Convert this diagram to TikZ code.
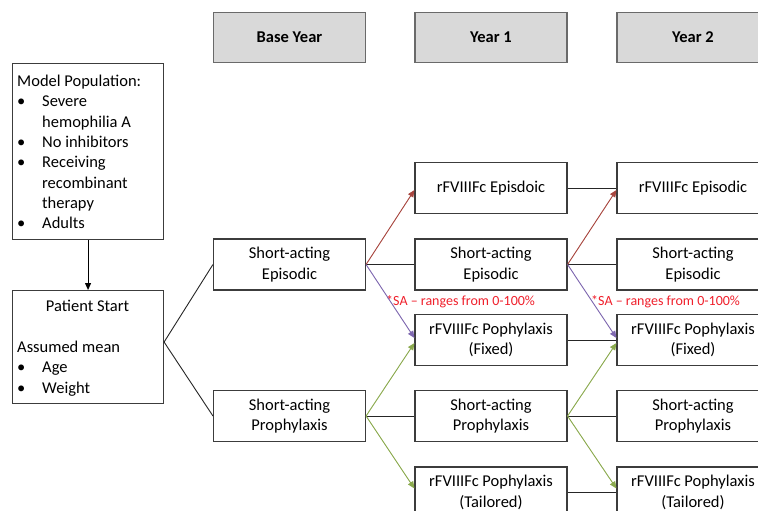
\documentclass[tikz,border=0pt]{standalone}
\usepackage{fontspec}
\setmainfont{Carlito}
\usetikzlibrary{arrows.meta}
\definecolor{hdrfill}{HTML}{D9D9D9}
\definecolor{hdrdraw}{HTML}{6A6A6A}
\definecolor{boxdraw}{HTML}{3C3C3C}
\definecolor{arred}{HTML}{A8463F}
\definecolor{arpurple}{HTML}{7F68B0}
\definecolor{argreen}{HTML}{8BAA4E}
\definecolor{satext}{HTML}{F0202C}
\newcommand{\bl}{\makebox[25pt][l]{\textbullet}}
\newcommand{\ind}{\hspace*{25pt}}
\begin{document}
\begin{tikzpicture}[x=1pt,y=-1pt,
  every node/.style={font=\fontsize{16.5}{20.3}\selectfont},
  box/.style={draw=boxdraw, line width=1.1pt, fill=white, minimum width=152pt, minimum height=51pt, inner sep=0pt, align=center},
  hdr/.style={draw=hdrdraw, line width=1.6pt, fill=hdrfill, minimum width=152pt, minimum height=50pt, inner sep=0pt, font=\fontsize{16.5}{20.3}\selectfont\bfseries},
  txt/.style={inner sep=0pt, align=left},
  satxt/.style={inner sep=0pt, anchor=west, text=satext, font=\fontsize{14}{17}\selectfont},
  conn/.style={line width=0.9pt, draw=black!85},
  tip/.style={line width=0.9pt, -{Triangle[length=7pt,width=6pt]}}]
\useasboundingbox (0,0) rectangle (758,511);
\clip (0,0) rectangle (758,511);
\fill[white] (0,0) rectangle (758,511);

% headers
\node[hdr] (hbase) at (289.5,37.5) {Base Year};
\node[hdr] (hy1) at (491,37.5) {Year 1};
\node[hdr] (hy2) at (693,37.5) {Year 2};

% left boxes
\node[draw=boxdraw, line width=1.1pt, minimum width=151pt, minimum height=176pt, anchor=north west, inner sep=0pt] (pop) at (12,63) {};
\node[txt, anchor=north west] (poptxt) at (17,75) {Model Population:\\ \bl Severe\\ \ind hemophilia A\\ \bl No inhibitors\\ \bl Receiving\\ \ind recombinant\\ \ind therapy\\ \bl Adults};
\node[draw=boxdraw, line width=1.1pt, minimum width=151pt, minimum height=113pt, anchor=north west, inner sep=0pt] (pat) at (12,290) {};
\node[inner sep=0pt] (pattitle) at (87.5,306) {Patient Start};
\node[txt, anchor=north west] (pattxt) at (17,341) {Assumed mean\\ \bl Age\\ \bl Weight};

% base year
\node[box] (bsae) at (289.5,264.5) {Short-acting\\Episodic};
\node[box] (bsap) at (289.5,416) {Short-acting\\Prophylaxis};

% year 1
\node[box] (aep) at (491,188) {rFVIIIFc Episdoic};
\node[box] (asae) at (491,264.5) {Short-acting\\Episodic};
\node[box] (afix) at (491,340) {rFVIIIFc Pophylaxis\\(Fixed)};
\node[box] (asap) at (491,416) {Short-acting\\Prophylaxis};
\node[box] (atai) at (491,492.5) {rFVIIIFc Pophylaxis\\(Tailored)};

% year 2
\node[box] (cep) at (693,188) {rFVIIIFc Episodic};
\node[box] (csae) at (693,264.5) {Short-acting\\Episodic};
\node[box] (cfix) at (693,340) {rFVIIIFc Pophylaxis\\(Fixed)};
\node[box] (csap) at (693,416) {Short-acting\\Prophylaxis};
\node[box] (ctai) at (693,492.5) {rFVIIIFc Pophylaxis\\(Tailored)};

% SA notes
\node[satxt] (sa1) at (386,302) {*SA – ranges from 0-100\%};
\node[satxt] (sa2) at (591,302) {*SA – ranges from 0-100\%};

% connectors
\draw[tip, draw=black, fill=black] (pop.south) -- (pat.north);
\coordinate (patout) at ([yshift=5pt]pat.east);
\draw[conn] (patout) -- (bsae.west);
\draw[conn] (patout) -- (bsap.west);

\draw[conn] (bsae.east) -- (asae.west);
\draw[conn] (bsap.east) -- (asap.west);
\draw[conn] (aep.east) -- (cep.west);
\draw[conn] (asae.east) -- (csae.west);
\draw[conn] (afix.east) -- (cfix.west);
\draw[conn] (asap.east) -- (csap.west);
\draw[conn] (atai.east) -- (ctai.west);

\draw[tip, draw=arred, fill=arred] (bsae.east) -- ([yshift=-2pt]aep.west);
\draw[tip, draw=arpurple, fill=arpurple] (bsae.east) -- ([yshift=2pt]afix.west);
\draw[tip, draw=argreen, fill=argreen] (bsap.east) -- ([yshift=-3pt]afix.west);
\draw[tip, draw=argreen, fill=argreen] (bsap.east) -- ([yshift=4pt]atai.west);

\draw[tip, draw=arred, fill=arred] (asae.east) -- ([yshift=-2pt]cep.west);
\draw[tip, draw=arpurple, fill=arpurple] (asae.east) -- ([yshift=2pt]cfix.west);
\draw[tip, draw=argreen, fill=argreen] (asap.east) -- ([yshift=-3pt]cfix.west);
\draw[tip, draw=argreen, fill=argreen] (asap.east) -- ([yshift=4pt]ctai.west);
\end{tikzpicture}
\end{document}
